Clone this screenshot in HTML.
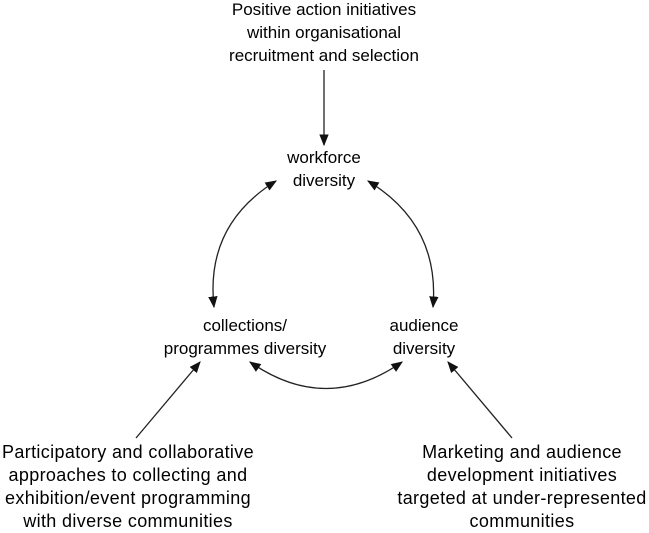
<!DOCTYPE html>
<html><head><meta charset="utf-8"><style>
html,body{margin:0;padding:0;background:#fff;}
body{width:649px;height:533px;position:relative;overflow:hidden;font-family:"Liberation Sans",Arial,sans-serif;font-size:17px;color:#000;}
.t{position:absolute;line-height:23px;white-space:nowrap;text-align:center;transform:translateX(-50%);}
.b{font-size:18px;letter-spacing:0.35px;}
</style></head><body>
<svg width="649" height="533" style="position:absolute;left:0;top:0">
<defs><marker id="a" viewBox="0 0 10 10" refX="9" refY="5" markerWidth="9" markerHeight="9" orient="auto-start-reverse"><path d="M0,1 L10,5 L0,9 Z" fill="#111"/></marker></defs>
<g stroke="#222" stroke-width="1.3" fill="none">
<line x1="324" y1="70" x2="324" y2="145" marker-end="url(#a)"/>
<path d="M276,181 Q205,225 214,307" marker-start="url(#a)" marker-end="url(#a)"/>
<path d="M368,181 Q440,225 433,307" marker-start="url(#a)" marker-end="url(#a)"/>
<path d="M250,362 Q326,415 402,362" marker-start="url(#a)" marker-end="url(#a)"/>
<line x1="136" y1="438" x2="200" y2="362" marker-end="url(#a)"/>
<line x1="512" y1="438" x2="448" y2="362" marker-end="url(#a)"/>
</g></svg>
<div class="t" style="left:324px;top:-2px">Positive action initiatives<br>within organisational<br>recruitment and selection</div>
<div class="t" style="left:324px;top:146px">workforce<br>diversity</div>
<div class="t" style="left:245px;top:314px">collections/<br>programmes diversity</div>
<div class="t" style="left:424px;top:314px">audience<br>diversity</div>
<div class="t b" style="left:128px;top:441px">Participatory and collaborative<br>approaches to collecting and<br>exhibition/event programming<br>with diverse communities</div>
<div class="t b" style="left:522px;top:441px">Marketing and audience<br>development initiatives<br>targeted at under-represented<br>communities</div>
</body></html>
